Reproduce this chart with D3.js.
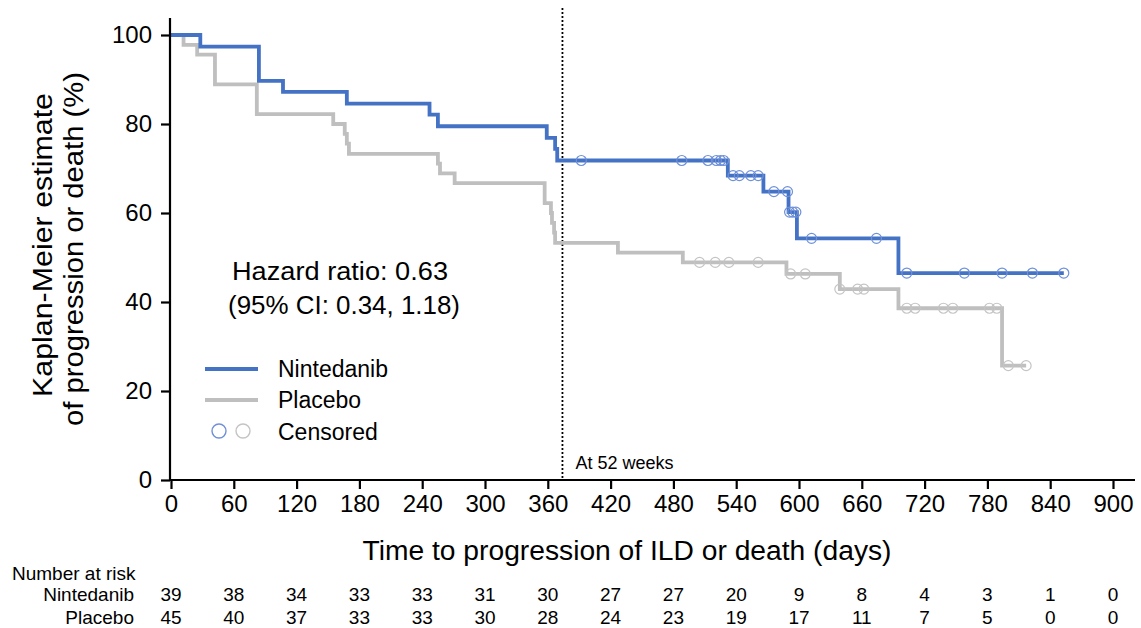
<!DOCTYPE html>
<html>
<head>
<meta charset="utf-8">
<script src="https://cdn.jsdelivr.net/npm/d3@7"></script>
<style>
  html, body { margin: 0; padding: 0; background: #fff; }
  svg { display: block; font-family: "Liberation Sans", Arial, sans-serif; }
</style>
</head>
<body>
<svg id="chart" width="1141" height="628"></svg>
<script>
// ---- Data ----
const nintTimes = [0, 28, 84, 107, 168, 247, 255, 359, 367, 369, 532, 566, 590, 598, 695];
const nintSurv  = [100, 97.4, 89.7, 87.2, 84.6, 82.1, 79.5, 76.9, 74.4, 71.8, 68.4, 64.8, 60.2, 54.3, 46.5];
const nintEnd = 853;
const nintCens = [392, 488, 513, 521, 525, 528, 537, 543, 554, 561, 576, 589, 591, 594, 597, 612, 674, 703, 758, 794, 823, 853];

const plaTimes = [0, 12, 25, 42, 82, 155, 166, 168, 170, 255, 257, 271, 357, 363, 364, 366, 367, 427, 489, 588, 639, 695, 794];
const plaSurv  = [100, 97.8, 95.6, 88.9, 82.2, 80.0, 77.8, 75.6, 73.3, 71.1, 68.9, 66.7, 62.2, 60.0, 57.8, 55.6, 53.3, 51.1, 48.9, 46.3, 42.9, 38.6, 25.7];
const plaEnd = 817;
const plaCens = [505, 520, 533, 561, 592, 606, 639, 656, 662, 703, 711, 738, 747, 782, 789, 800, 817];

const xTicks = [0, 60, 120, 180, 240, 300, 360, 420, 480, 540, 600, 660, 720, 780, 840, 900];
const yTicks = [0, 20, 40, 60, 80, 100];
const nintRisk = [39, 38, 34, 33, 33, 31, 30, 27, 27, 20, 9, 8, 4, 3, 1, 0];
const plaRisk  = [45, 40, 37, 33, 33, 30, 28, 24, 23, 19, 17, 11, 7, 5, 0, 0];
const week52 = 374;

const blue = "#4472C4", blueC = "#6F90D8";
const gray = "#BFBFBF", grayC = "#C4C4C4";

// ---- Scales ----
const x = d3.scaleLinear().domain([0, 900]).range([171, 1113]);
const y = d3.scaleLinear().domain([0, 100]).range([480, 35]);

const svg = d3.select("#chart");

function stepData(times, surv, end) {
  const pts = times.map((t, i) => [t, surv[i]]);
  pts.push([end, surv[surv.length - 1]]);
  return pts;
}
function survAt(times, surv, t) {
  let v = surv[0];
  for (let i = 0; i < times.length; i++) if (times[i] <= t) v = surv[i];
  return v;
}
const line = d3.line().x(d => x(d[0])).y(d => y(d[1])).curve(d3.curveStepAfter);

function txt(g, s, px, py, size, anchor, len) {
  const t = g.append("text").attr("x", px).attr("y", py).attr("font-size", size)
    .attr("fill", "#000").attr("text-anchor", anchor || "start").text(s);
  if (len) t.attr("textLength", len).attr("lengthAdjust", "spacingAndGlyphs");
  return t;
}

// 52-week dotted line
svg.append("line")
  .attr("x1", x(week52)).attr("x2", x(week52))
  .attr("y1", 8).attr("y2", y(0))
  .attr("stroke", "#000").attr("stroke-width", 1.8).attr("stroke-dasharray", "2,2");
txt(svg, "At 52 weeks", x(week52) + 13, 469, 18);

// curves
svg.append("path").datum(stepData(plaTimes, plaSurv, plaEnd))
  .attr("d", line).attr("fill", "none").attr("stroke", gray).attr("stroke-width", 3.8);
svg.append("path").datum(stepData(nintTimes, nintSurv, nintEnd))
  .attr("d", line).attr("fill", "none").attr("stroke", blue).attr("stroke-width", 3.8);

// censor marks
svg.append("g").selectAll("circle").data(plaCens).join("circle")
  .attr("cx", d => x(d)).attr("cy", d => y(survAt(plaTimes, plaSurv, d)))
  .attr("r", 5).attr("fill", "none").attr("stroke", grayC).attr("stroke-width", 1.2);
svg.append("g").selectAll("circle").data(nintCens).join("circle")
  .attr("cx", d => x(d)).attr("cy", d => y(survAt(nintTimes, nintSurv, d)))
  .attr("r", 5).attr("fill", "none").attr("stroke", blueC).attr("stroke-width", 1.2);

// axes
const xAxis = svg.append("g").attr("transform", `translate(0,${y(0)})`)
  .call(d3.axisBottom(x).tickValues(xTicks).tickSize(9).tickPadding(6).tickSizeOuter(0));
xAxis.select(".domain").attr("d", `M${x(0) - 1},0H1135`);
const yAxis = svg.append("g").attr("transform", `translate(${x(0) - 1},0)`)
  .call(d3.axisLeft(y).tickValues(yTicks).tickSize(9).tickPadding(9).tickSizeOuter(0));
yAxis.select(".domain").attr("d", `M0,18V${y(0)}`);
[xAxis, yAxis].forEach(a => {
  a.selectAll(".domain").attr("stroke", "#000").attr("stroke-width", 2.2);
  a.selectAll(".tick line").attr("stroke", "#000").attr("stroke-width", 2.2);
  a.selectAll(".tick text").attr("font-size", 24).attr("fill", "#000")
    .attr("font-family", "Liberation Sans, Arial, sans-serif");
});

// axis titles
txt(svg, "Time to progression of ILD or death (days)", 627, 560, 27, "middle", 529);
const yg = svg.append("g").attr("transform", "rotate(-90)");
txt(yg, "Kaplan-Meier estimate", -245, 52, 27, "middle", 304);
txt(yg, "of progression or death (%)", -249, 83, 27, "middle", 354);

// hazard ratio
txt(svg, "Hazard ratio: 0.63", 340, 280, 26, "middle", 216);
txt(svg, "(95% CI: 0.34, 1.18)", 344, 314, 26, "middle", 232);

// legend
const lg = svg.append("g");
lg.append("line").attr("x1", 205).attr("x2", 258).attr("y1", 369).attr("y2", 369)
  .attr("stroke", blue).attr("stroke-width", 3.8);
lg.append("line").attr("x1", 205).attr("x2", 258).attr("y1", 400).attr("y2", 400)
  .attr("stroke", gray).attr("stroke-width", 3.8);
lg.append("circle").attr("cx", 219).attr("cy", 431).attr("r", 7)
  .attr("fill", "none").attr("stroke", blueC).attr("stroke-width", 1.4);
lg.append("circle").attr("cx", 243).attr("cy", 431).attr("r", 7)
  .attr("fill", "none").attr("stroke", grayC).attr("stroke-width", 1.4);
txt(lg, "Nintedanib", 278, 377, 23);
txt(lg, "Placebo", 278, 408, 23);
txt(lg, "Censored", 278, 440, 23);

// risk table
txt(svg, "Number at risk", 12, 580, 19);
txt(svg, "Nintedanib", 134, 601, 19, "end");
txt(svg, "Placebo", 134, 624, 19, "end");
svg.append("g").selectAll("text").data(nintRisk).join("text")
  .attr("x", (d, i) => x(xTicks[i])).attr("y", 601).attr("text-anchor", "middle")
  .attr("font-size", 19).attr("fill", "#000").text(d => d);
svg.append("g").selectAll("text").data(plaRisk).join("text")
  .attr("x", (d, i) => x(xTicks[i])).attr("y", 624).attr("text-anchor", "middle")
  .attr("font-size", 19).attr("fill", "#000").text(d => d);
</script>
</body>
</html>
